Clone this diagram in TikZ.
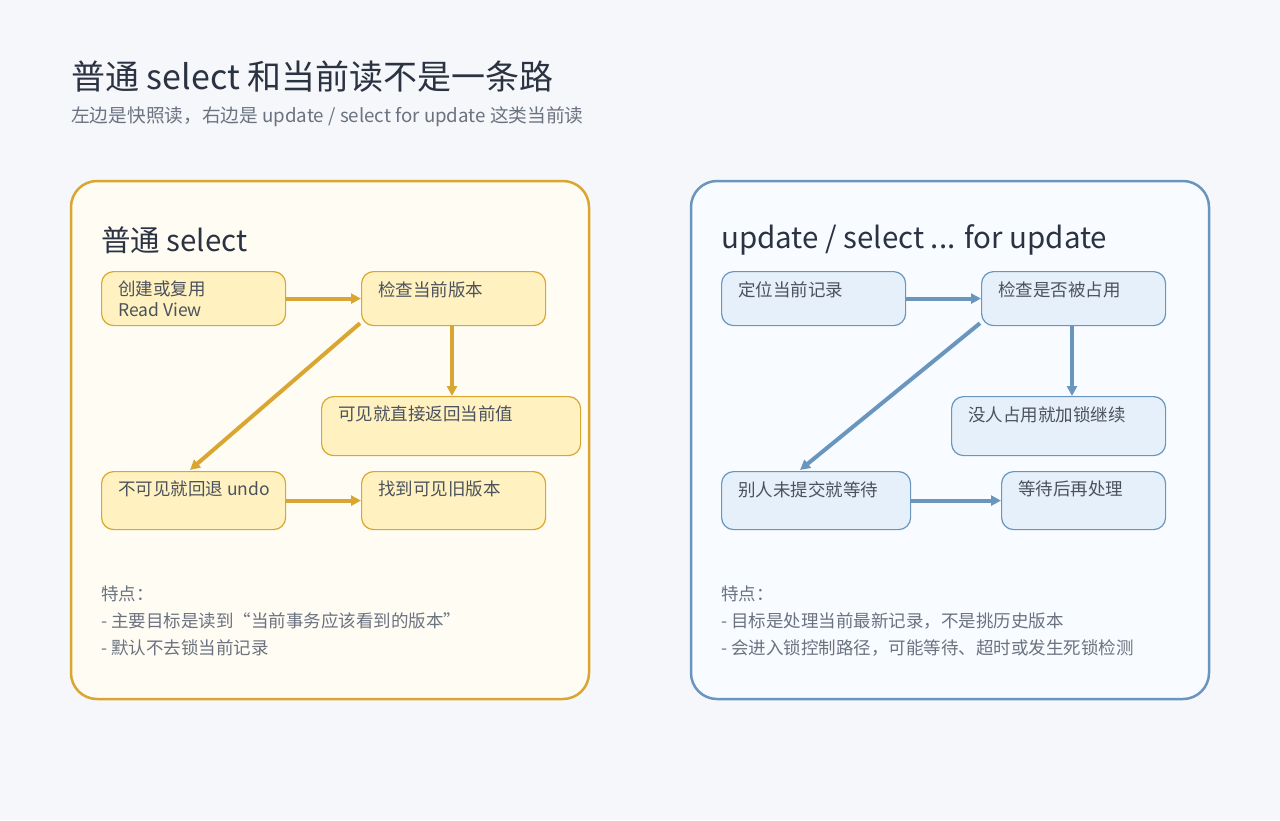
\documentclass[tikz,border=0pt]{standalone}
\usepackage{fontspec}
\setmainfont{Noto Sans CJK SC}
\usetikzlibrary{arrows.meta,positioning}
\definecolor{bgc}{HTML}{F5F7FB}
\definecolor{titc}{HTML}{2B3342}
\definecolor{subc}{HTML}{6B7280}
\definecolor{goldl}{HTML}{D9A632}
\definecolor{goldf}{HTML}{FFFCF3}
\definecolor{goldb}{HTML}{FFF1C0}
\definecolor{bluel}{HTML}{6A96BE}
\definecolor{bluef}{HTML}{F8FBFF}
\definecolor{blueb}{HTML}{E6F0FA}
\tikzset{
  panel/.style={draw=#1, line width=2.5pt, rounded corners=26pt},
  box/.style={draw=#1, line width=1.2pt, rounded corners=12pt, anchor=north west, inner sep=0pt},
  txt/.style={anchor=north west, inner sep=0pt, text=titc!85, font=\fontsize{17.5}{21}\selectfont, align=left},
  note/.style={anchor=north west, inner sep=0pt, text=subc, font=\fontsize{17.5}{27}\selectfont, align=left},
  flow/.style={draw=#1, line width=4pt, -{Triangle[length=10pt,width=10pt]}}
}
\begin{document}
\begin{tikzpicture}[x=1pt,y=-1pt]
\fill[bgc] (0,0) rectangle (1280,820);
\useasboundingbox (0,0) rectangle (1280,820);
% title
\node[anchor=west, inner sep=0pt, text=titc, font=\fontsize{34}{40}\selectfont] (title) at (71,77) {普通 select 和当前读不是一条路};
\node[anchor=west, inner sep=0pt, text=subc, font=\fontsize{18.7}{22}\selectfont] (sub) at (71,117) {左边是快照读，右边是 update / select for update 这类当前读};
% left panel
\filldraw[panel=goldl, fill=goldf] (71,181) rectangle (589,699);
\node[anchor=west, inner sep=0pt, text=titc, font=\fontsize{29.5}{34}\selectfont] (lt) at (101,240) {普通 select};
\node[box=goldl, fill=goldb, minimum width=184, minimum height=54] (a1) at (101,271) {};
\node[box=goldl, fill=goldb, minimum width=184, minimum height=54] (a2) at (361,271) {};
\node[box=goldl, fill=goldb, minimum width=259, minimum height=59] (a3) at (321,396) {};
\node[box=goldl, fill=goldb, minimum width=184, minimum height=58] (a4) at (101,471) {};
\node[box=goldl, fill=goldb, minimum width=184, minimum height=58] (a5) at (361,471) {};
\node[txt] at ([shift={(17,10)}]a1.north west) {创建或复用\\Read View};
\node[txt] at ([shift={(17,10)}]a2.north west) {检查当前版本};
\node[txt] at ([shift={(17,10)}]a3.north west) {可见就直接返回当前值};
\node[txt] at ([shift={(17,10)}]a4.north west) {不可见就回退 undo};
\node[txt] at ([shift={(17,10)}]a5.north west) {找到可见旧版本};
\coordinate (a2s) at (452,325);
\coordinate (a3n) at (452,396);
\coordinate (a4n) at (190,470);
\draw[flow=goldl] (a1.east) -- (a2.west);
\draw[flow=goldl] (a2s) -- (a3n);
\draw[flow=goldl] ([shift={(-1,-3)}]a2.south west) -- (a4n);
\draw[flow=goldl] (a4.east) -- (a5.west);
\node[note] at (101,586) {特点：\\- 主要目标是读到“当前事务应该看到的版本”\\- 默认不去锁当前记录};
% right panel
\filldraw[panel=bluel, fill=bluef] (691,181) rectangle (1209,699);
\node[anchor=west, inner sep=0pt, text=titc, font=\fontsize{29.5}{34}\selectfont] (rt) at (721,240) {update / select ... for update};
\node[box=bluel, fill=blueb, minimum width=184, minimum height=54] (b1) at (721,271) {};
\node[box=bluel, fill=blueb, minimum width=184, minimum height=54] (b2) at (981,271) {};
\node[box=bluel, fill=blueb, minimum width=214, minimum height=59] (b3) at (951,396) {};
\node[box=bluel, fill=blueb, minimum width=189, minimum height=58] (b4) at (721,471) {};
\node[box=bluel, fill=blueb, minimum width=164, minimum height=58] (b5) at (1001,471) {};
\node[txt] at ([shift={(17,10)}]b1.north west) {定位当前记录};
\node[txt] at ([shift={(17,10)}]b2.north west) {检查是否被占用};
\node[txt] at ([shift={(17,10)}]b3.north west) {没人占用就加锁继续};
\node[txt] at ([shift={(17,10)}]b4.north west) {别人未提交就等待};
\node[txt] at ([shift={(17,10)}]b5.north west) {等待后再处理};
\coordinate (b2s) at (1072,325);
\coordinate (b3n) at (1072,396);
\coordinate (b4n) at (800,470);
\draw[flow=bluel] (b1.east) -- (b2.west);
\draw[flow=bluel] (b2s) -- (b3n);
\draw[flow=bluel] ([shift={(-1,-3)}]b2.south west) -- (b4n);
\draw[flow=bluel] (b4.east) -- (b5.west);
\node[note] at (721,586) {特点：\\- 目标是处理当前最新记录，不是挑历史版本\\- 会进入锁控制路径，可能等待、超时或发生死锁检测};
\end{tikzpicture}
\end{document}
